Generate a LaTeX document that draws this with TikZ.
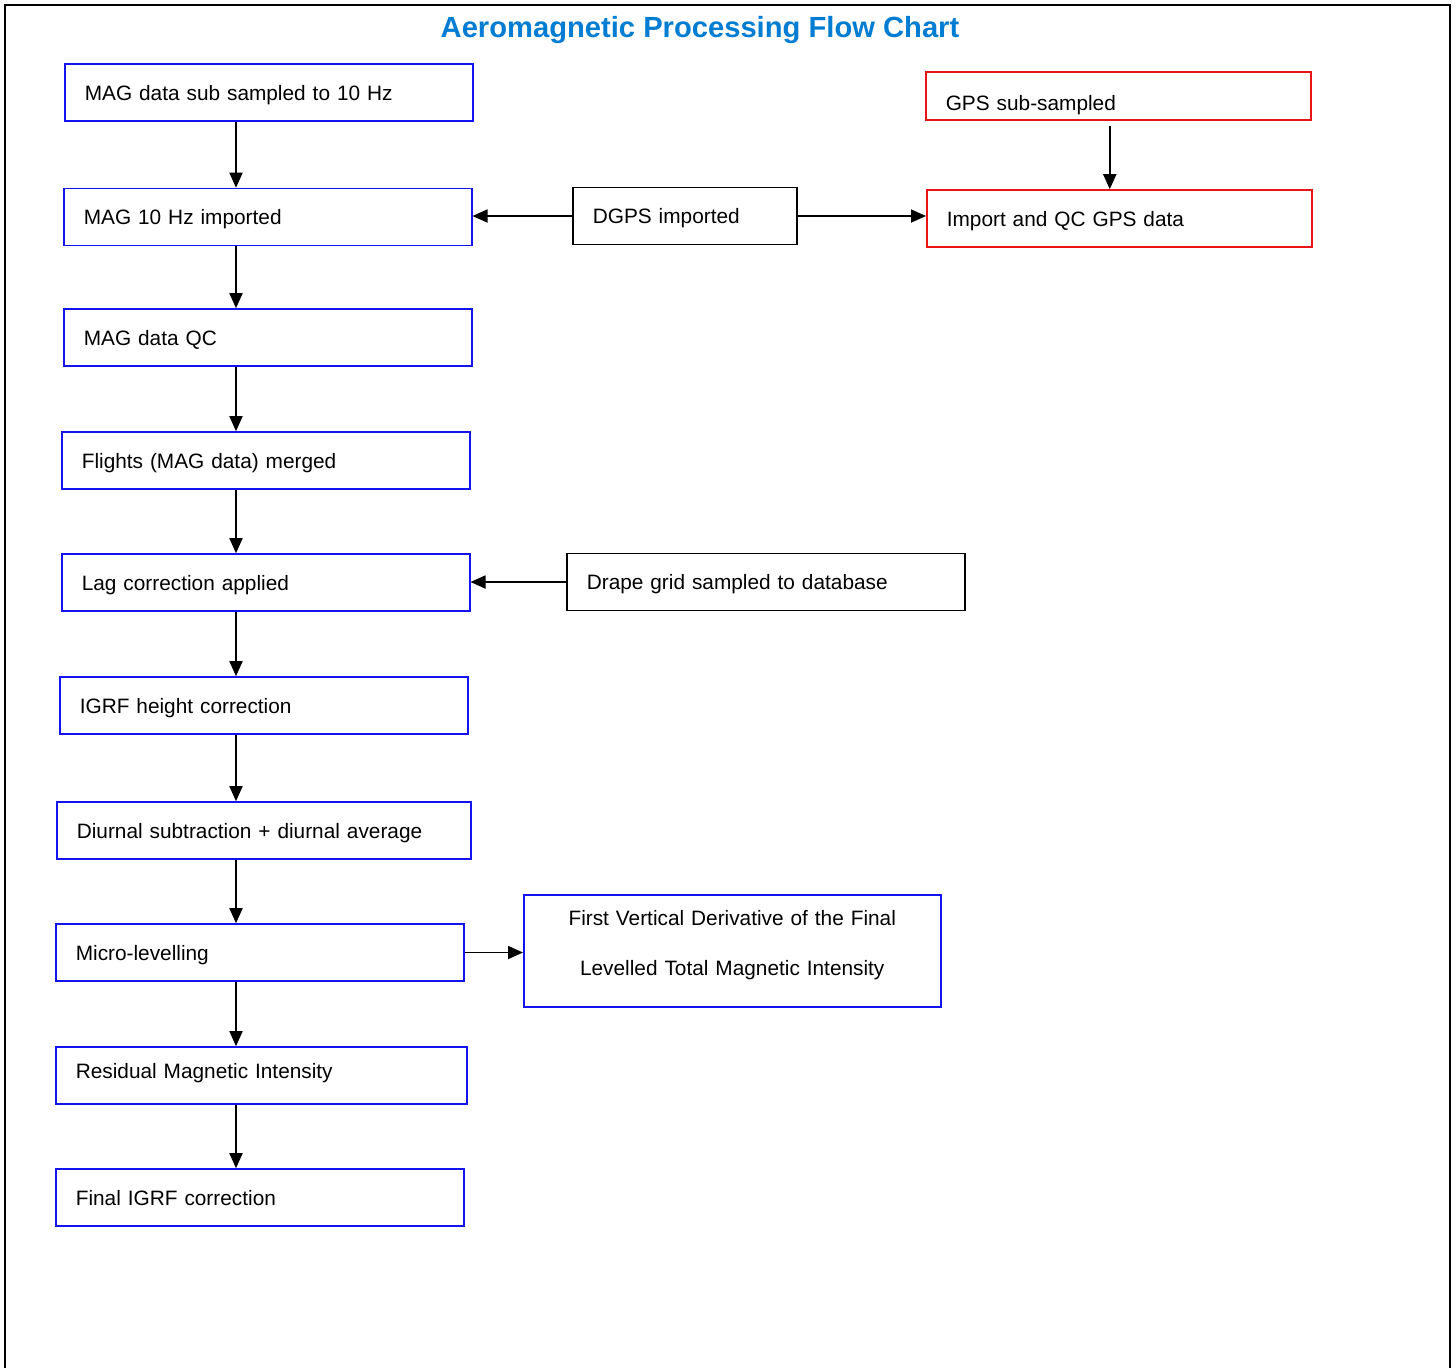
\documentclass[tikz,border=0pt]{standalone}
\usepackage{fontspec}
\setmainfont{Liberation Sans}
\usetikzlibrary{arrows.meta, positioning, calc}

\definecolor{magblue}{RGB}{20,20,240}
\definecolor{gpsred}{RGB}{235,20,20}
\definecolor{titleblue}{RGB}{0,125,210}

\tikzset{
    box/.style={draw, line width=0.9pt, rectangle, anchor=west, minimum height=1.14cm, inner xsep=0.4cm, inner ysep=0pt, align=left, text height=0.36cm, text depth=0.06cm},
    magbox/.style={box, draw=magblue, text width=#1},
    magbox/.default=7.36cm,
    gpsbox/.style={box, draw=gpsred, text width=6.9cm},
    srcbox/.style={box, draw=black, text width=#1},
    flow/.style={->, line width=1pt}
}

\begin{document}
\begin{tikzpicture}[x=0.02cm, y=-0.02cm, font=\fontsize{11.85}{14.2}\selectfont, >={Triangle[length=3mm, width=2.6mm]}]
    \useasboundingbox (0,0) rectangle (1456,1367);
    \clip (0,0) rectangle (1456,1367);
    % frame
    \draw[line width=1.3pt] (5,1400) -- (5,5) -- (1450,5) -- (1450,1400);
    \node[font=\fontsize{16.6}{20}\selectfont\bfseries, text=titleblue] (title) at (700,30) {Aeromagnetic Processing Flow Chart};

    % main MAG column
    \node[magbox] (sub) at (64,92.5) {MAG data sub sampled to 10 Hz};
    \node[magbox] (imp) at (63,217) {MAG 10 Hz imported};
    \node[magbox] (qc) at (63,337.5) {MAG data QC};
    \node[magbox] (merge) at (61,460.5) {Flights (MAG data) merged};
    \node[magbox] (lag) at (61,582.5) {Lag correction applied};
    \node[magbox] (igrf) at (59,705.5) {IGRF height correction};
    \node[magbox=7.48cm] (diurnal) at (56,830.5) {Diurnal subtraction + diurnal average};
    \node[magbox] (micro) at (55,952.5) {Micro-levelling};
    \node[magbox=7.42cm, text depth=0.26cm] (resid) at (55,1075.5) {Residual Magnetic Intensity};
    \node[magbox] (final) at (55,1197.5) {Final IGRF correction};

    % side inputs
    \node[srcbox=3.68cm] (dgps) at (572,216) {DGPS imported};
    \node[gpsbox, minimum height=0.96cm, text height=0.7cm, text depth=0.14cm] (gpssub) at (925,96) {GPS sub-sampled};
    \node[gpsbox] (gpsqc) at (926,218.5) {Import and QC GPS data};
    \node[srcbox=7.16cm] (drape) at (566,582) {Drape grid sampled to database};
    \node[magbox=7.54cm, align=center, minimum height=2.24cm, text height=0.33cm, text depth=1.35cm] (fvd) at (523,951) {First Vertical Derivative of the Final\\[0.5cm]Levelled Total Magnetic Intensity};

    \coordinate (spine) at (236,0);

    % connectors
    \draw[flow] (sub.south -| spine) -- (imp.north -| spine);
    \draw[flow] (imp.south -| spine) -- (qc.north -| spine);
    \draw[flow] (qc.south -| spine) -- (merge.north -| spine);
    \draw[flow] (merge.south -| spine) -- (lag.north -| spine);
    \draw[flow] (lag.south -| spine) -- (igrf.north -| spine);
    \draw[flow] (igrf.south -| spine) -- (diurnal.north -| spine);
    \draw[flow] (diurnal.south -| spine) -- (micro.north -| spine);
    \draw[flow] (micro.south -| spine) -- (resid.north -| spine);
    \draw[flow] (resid.south -| spine) -- (final.north -| spine);

    \draw[flow] (dgps.west) -- (dgps.west -| imp.east);
    \draw[flow] (dgps.east) -- (dgps.east -| gpsqc.west);
    \draw[flow] ([xshift=-0.17cm, yshift=-0.1cm]gpssub.south) -- ([xshift=-0.17cm]gpssub.south |- gpsqc.north);
    \draw[flow] (drape.west) -- (drape.west -| lag.east);
    \draw[flow] (micro.east) -- (micro.east -| fvd.west);
\end{tikzpicture}
\end{document}
